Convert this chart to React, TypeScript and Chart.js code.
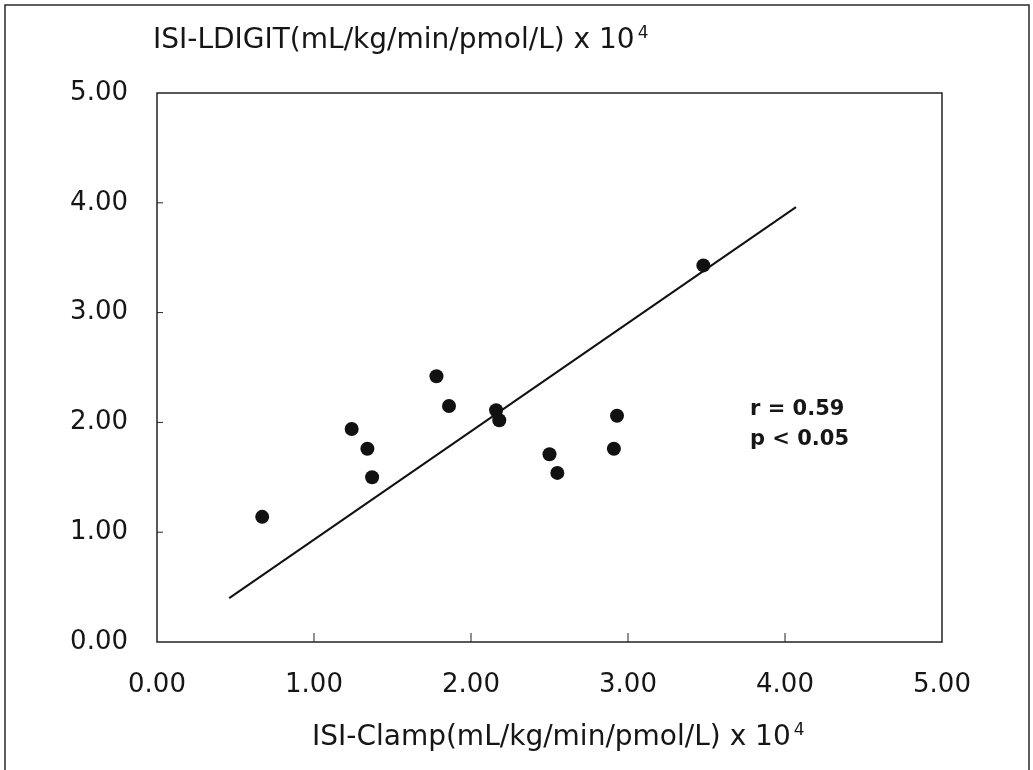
import { useEffect, useRef } from "react";
import { Chart, registerables } from "chart.js";

Chart.register(...registerables);

// ---- data ----
const clampX = [0.67, 1.24, 1.34, 1.37, 1.78, 1.86, 2.16, 2.18, 2.5, 2.55, 2.91, 2.93, 3.48];
const ldigitY = [1.14, 1.94, 1.76, 1.5, 2.42, 2.15, 2.11, 2.02, 1.71, 1.54, 1.76, 2.06, 3.43];
const fitX = [0.46, 4.07];
const fitY = [0.4, 3.96];
const axisMin = 0;
const axisMax = 5;
const tickStep = 1;
const yTitle = "ISI-LDIGIT(mL/kg/min/pmol/L) x 10";
const xTitle = "ISI-Clamp(mL/kg/min/pmol/L) x 10";
const exponent = "4";
const statLines = ["r = 0.59", "p < 0.05"];

const FONT = "'DejaVu Sans', 'Liberation Sans', Arial, sans-serif";
const INK = "#161616";

const decorPlugin = {
  id: "decor",
  afterDraw(chart: any) {
    const { ctx, chartArea, scales } = chart;
    const { left, top, right, bottom } = chartArea;
    ctx.save();
    // outer frame (bottom edge falls outside the picture)
    ctx.strokeStyle = "#2a2a2a";
    ctx.lineWidth = 1.5;
    ctx.beginPath();
    ctx.moveTo(5, 775);
    ctx.lineTo(5, 5);
    ctx.lineTo(1029, 5);
    ctx.lineTo(1029, 775);
    ctx.stroke();

    // plot box
    ctx.strokeStyle = "#222";
    ctx.lineWidth = 1.5;
    ctx.strokeRect(left, top, right - left, bottom - top);

    // inner tick marks
    ctx.lineWidth = 1;
    for (let v = axisMin + tickStep; v < axisMax; v += tickStep) {
      const px = scales.x.getPixelForValue(v);
      ctx.beginPath();
      ctx.moveTo(px, bottom);
      ctx.lineTo(px, bottom - 9);
      ctx.stroke();
      const py = scales.y.getPixelForValue(v);
      ctx.beginPath();
      ctx.moveTo(left, py);
      ctx.lineTo(left + 6, py);
      ctx.stroke();
    }

    // titles with superscript exponent
    const drawTitle = (text: string, x: number, y: number, size: number) => {
      ctx.fillStyle = INK;
      ctx.textAlign = "left";
      ctx.textBaseline = "alphabetic";
      ctx.font = `${size}px ${FONT}`;
      ctx.fillText(text, x, y);
      const w = ctx.measureText(text).width;
      ctx.font = `${Math.round(size * 0.6)}px ${FONT}`;
      ctx.fillText(exponent, x + w + 3, y - size * 0.36);
    };
    drawTitle(yTitle, 153, 48, 28);
    drawTitle(xTitle, 312, 745, 28);

    // statistics annotation
    ctx.font = `bold 21px ${FONT}`;
    ctx.fillStyle = INK;
    ctx.textAlign = "left";
    ctx.fillText(statLines[0], 750, 415);
    ctx.fillText(statLines[1], 750, 445);
    ctx.restore();
  },
};

export default function App() {
  const ref = useRef<HTMLCanvasElement | null>(null);

  useEffect(() => {
    if (!ref.current) return;
    const points = clampX.map((x, i) => ({ x, y: ldigitY[i] }));
    const fit = fitX.map((x, i) => ({ x, y: fitY[i] }));
    const tickFont = { family: FONT, size: 26 };
    const chart = new Chart(ref.current, {
      type: "scatter",
      data: {
        datasets: [
          {
            data: points,
            pointRadius: 7,
            pointHoverRadius: 7,
            backgroundColor: "#111",
            borderWidth: 0,
          },
          {
            data: fit,
            showLine: true,
            pointRadius: 0,
            borderColor: "#111",
            borderWidth: 2,
            fill: false,
          } as any,
        ],
      },
      options: {
        responsive: false,
        animation: false,
        events: [],
        layout: { padding: { top: 93, right: 91, left: 0, bottom: 0 } },
        plugins: { legend: { display: false }, tooltip: { enabled: false } },
        scales: {
          x: {
            type: "linear",
            min: axisMin,
            max: axisMax,
            grid: { display: false, drawTicks: false },
            border: { display: false },
            ticks: {
              stepSize: tickStep,
              font: tickFont,
              color: INK,
              padding: 28,
              maxRotation: 0,
              callback: (v: any) => Number(v).toFixed(2),
            },
            afterFit: (s: any) => {
              s.height = 128;
            },
          },
          y: {
            type: "linear",
            min: axisMin,
            max: axisMax,
            grid: { display: false, drawTicks: false },
            border: { display: false },
            ticks: {
              stepSize: tickStep,
              font: tickFont,
              color: INK,
              padding: 29,
              callback: (v: any) => Number(v).toFixed(2),
            },
            afterFit: (s: any) => {
              s.width = 157;
            },
          },
        },
      },
      plugins: [decorPlugin],
    });
    return () => chart.destroy();
  }, []);

  return (
    <div style={{ position: "absolute", left: 0, top: 0, width: 1033, height: 770, background: "#fff" }}>
      <canvas ref={ref} width={1033} height={770} style={{ display: "block" }} />
    </div>
  );
}
